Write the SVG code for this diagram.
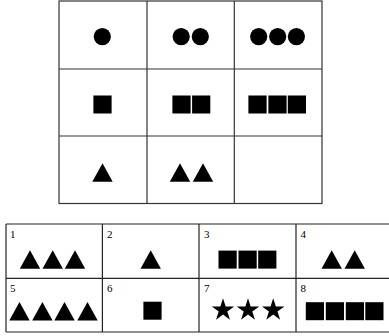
<svg xmlns="http://www.w3.org/2000/svg" width="389" height="336" viewBox="0 0 389 336">
<style>
.grid{fill:none;stroke:#333;stroke-width:1.2}
.tab{fill:none;stroke:#222;stroke-width:1.2}
.s{fill:#000}
.lbl{font-family:"Liberation Serif",serif;font-size:11px;fill:#000}
</style>
<defs>
<path id="tri" d="M0,-9.2 L10.2,9.2 L-10.2,9.2 Z" fill="#000"/>
<rect id="sq" x="-9.1" y="-9" width="18.2" height="18" fill="#000"/>
<circle id="dot" r="8.6" fill="#000"/>
<polygon id="star" points="0,-11.8 2.65,-3.65 11.22,-3.65 4.29,1.39 6.94,9.55 0,4.51 -6.94,9.55 -4.29,1.39 -11.22,-3.65 -2.65,-3.65" fill="#000"/>
</defs>
<rect width="389" height="336" fill="#fff"/>
<g id="connectors">
<rect class="grid" x="59" y="1" width="263" height="202.5"/>
<line class="grid" x1="147" y1="1" x2="147" y2="203.5"/>
<line class="grid" x1="234.3" y1="1" x2="234.3" y2="203.5"/>
<line class="grid" x1="59" y1="69" x2="322" y2="69"/>
<line class="grid" x1="59" y1="136" x2="322" y2="136"/>
<line class="tab" x1="6" y1="224" x2="389" y2="224"/>
<line class="tab" x1="6" y1="278.3" x2="389" y2="278.3"/>
<line class="tab" x1="6" y1="332" x2="389" y2="332"/>
<line class="tab" x1="6" y1="224" x2="6" y2="332"/>
<line class="tab" x1="102.4" y1="224" x2="102.4" y2="332"/>
<line class="tab" x1="199" y1="224" x2="199" y2="332"/>
<line class="tab" x1="296" y1="224" x2="296" y2="332"/>
</g>
<g id="m11"><use href="#dot" x="102.3" y="36.6"/></g>
<g id="m12"><use href="#dot" x="181.2" y="36.6"/><use href="#dot" x="200.3" y="36.6"/></g>
<g id="m13"><use href="#dot" x="258.7" y="36.6"/><use href="#dot" x="277.7" y="36.6"/><use href="#dot" x="296.4" y="36.6"/></g>
<g id="m21"><use href="#sq" x="102.5" y="104.5"/></g>
<g id="m22"><use href="#sq" x="181.5" y="104.5"/><use href="#sq" x="201.2" y="104.5"/></g>
<g id="m23"><use href="#sq" x="257.5" y="104.5"/><use href="#sq" x="277.5" y="104.5"/><use href="#sq" x="296.9" y="104.5"/></g>
<g id="m31"><use href="#tri" x="102.5" y="172.5"/></g>
<g id="m32"><use href="#tri" x="180" y="172.5"/><use href="#tri" x="203" y="172.5"/></g>
<g id="m33"></g>
<g id="opt1"><text class="lbl" x="10" y="237.5">1</text><use href="#tri" x="30" y="259.5"/><use href="#tri" x="52.7" y="259.5"/><use href="#tri" x="75" y="259.5"/></g>
<g id="opt2"><text class="lbl" x="107" y="237.5">2</text><use href="#tri" x="150.7" y="259.5"/></g>
<g id="opt3"><text class="lbl" x="204" y="237.5">3</text><use href="#sq" x="227.6" y="259.6"/><use href="#sq" x="247.6" y="259.6"/><use href="#sq" x="267.3" y="259.6"/></g>
<g id="opt4"><text class="lbl" x="300.5" y="237.5">4</text><use href="#tri" x="331.7" y="259.5"/><use href="#tri" x="354.7" y="259.5"/></g>
<g id="opt5"><text class="lbl" x="10" y="291.5">5</text><use href="#tri" x="19.5" y="311.2"/><use href="#tri" x="42.4" y="311.2"/><use href="#tri" x="64.5" y="311.2"/><use href="#tri" x="87.5" y="311.2"/></g>
<g id="opt6"><text class="lbl" x="107" y="291.5">6</text><use href="#sq" x="152.5" y="310.7"/></g>
<g id="opt7"><text class="lbl" x="204" y="291.5">7</text><use href="#star" x="223" y="310.1"/><use href="#star" x="248" y="310.1"/><use href="#star" x="273.2" y="310.1"/></g>
<g id="opt8"><text class="lbl" x="300.5" y="291.5">8</text><use href="#sq" x="314.9" y="311.2"/><use href="#sq" x="334.9" y="311.2"/><use href="#sq" x="354.9" y="311.2"/><use href="#sq" x="374.4" y="311.2"/></g>
</svg>
